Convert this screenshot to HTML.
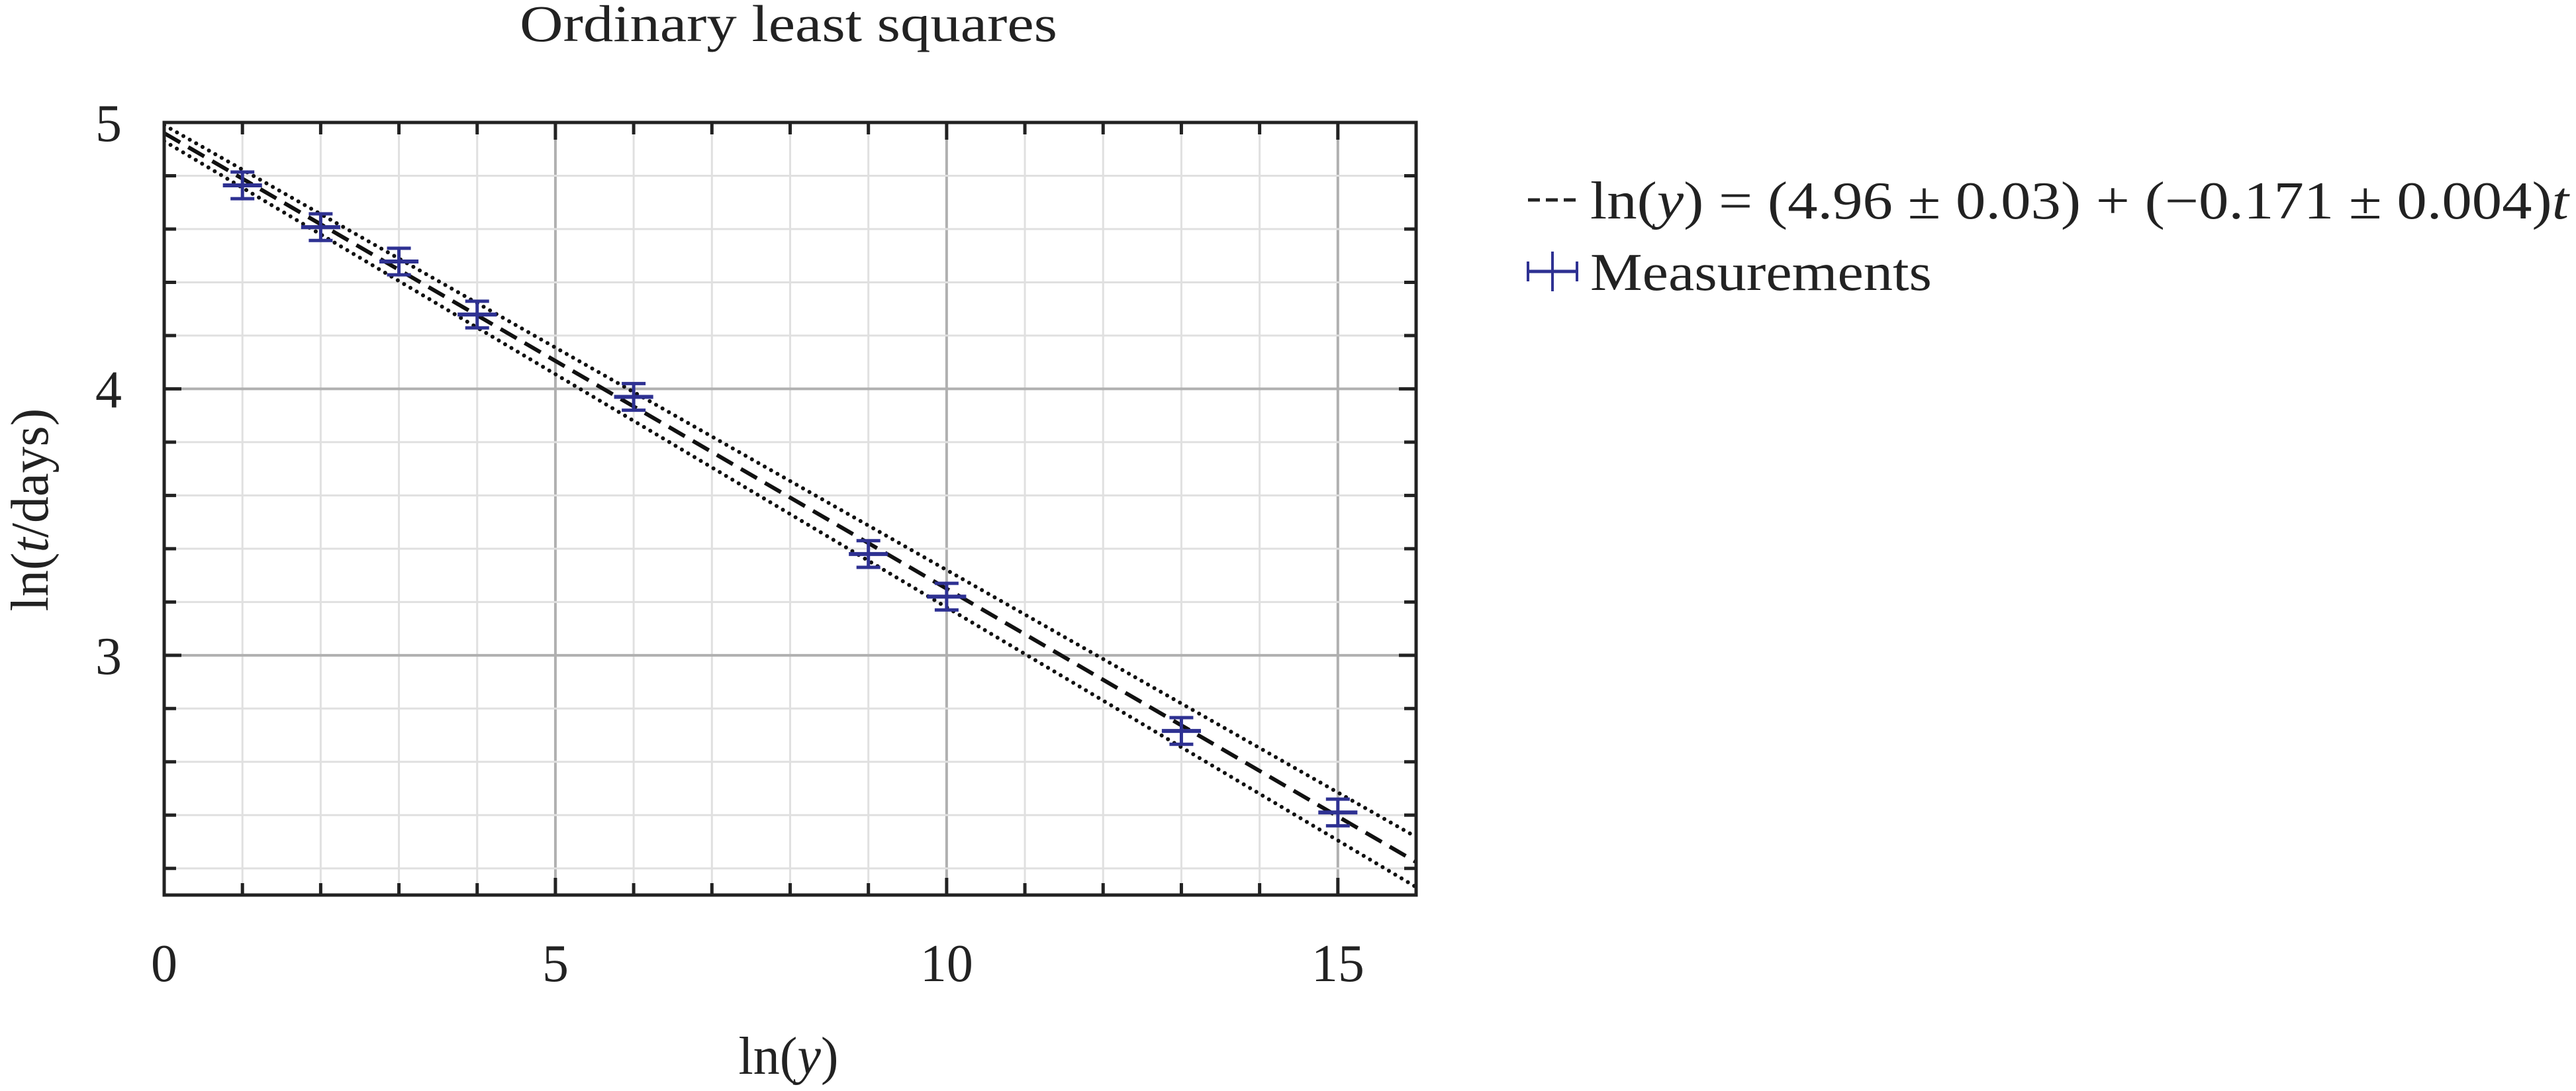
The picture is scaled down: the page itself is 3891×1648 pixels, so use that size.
<!DOCTYPE html>
<html><head><meta charset="utf-8"><style>
html,body{margin:0;padding:0;background:#fff;}
svg{display:block;font-family:"Liberation Serif",serif;}
</style></head><body>
<svg id="chart" width="3891" height="1648" viewBox="0 0 3891 1648" xmlns="http://www.w3.org/2000/svg">
<text x="1191" y="62" font-size="78" text-anchor="middle" fill="#222" textLength="812" lengthAdjust="spacingAndGlyphs">Ordinary least squares</text>
<g id="grid"></g>
<g id="fit"></g>
<g id="pts"></g>
<g id="axes"></g>
<text x="1191" y="1622" font-size="80" text-anchor="middle" fill="#222">ln(<tspan font-style="italic">y</tspan>)</text>
<text transform="translate(72,770) rotate(-90)" font-size="80" text-anchor="middle" fill="#222">ln(<tspan font-style="italic">t</tspan>/days)</text>
<g>
<line x1="2308" y1="302" x2="2382" y2="302" stroke="#222" stroke-width="5" stroke-dasharray="18,9"/>
<text x="2402" y="330" font-size="80" fill="#222" textLength="1478" lengthAdjust="spacingAndGlyphs">ln(<tspan font-style="italic">y</tspan>) = (4.96 ± 0.03) + (−0.171 ± 0.004)<tspan font-style="italic">t</tspan></text>
<line x1="2308" y1="410" x2="2382" y2="410" stroke="#2e3192" stroke-width="5"/>
<line x1="2345" y1="380" x2="2345" y2="440" stroke="#2e3192" stroke-width="4"/>
<line x1="2308" y1="395" x2="2308" y2="425" stroke="#2e3192" stroke-width="4"/>
<line x1="2382" y1="395" x2="2382" y2="425" stroke="#2e3192" stroke-width="4"/>
<text x="2402" y="438" font-size="80" fill="#222" textLength="516" lengthAdjust="spacingAndGlyphs">Measurements</text>
</g>
</svg>
<script>
const xs = [1, 2, 3, 4, 6, 9, 10, 13, 15];
const ys = [4.764, 4.607, 4.478, 4.279, 3.97, 3.38, 3.22, 2.716, 2.41];
const yErr = [0.05, 0.05, 0.05, 0.05, 0.05, 0.05, 0.05, 0.05, 0.05];
const xErr = [0.25, 0.25, 0.25, 0.25, 0.25, 0.25, 0.25, 0.25, 0.25];
const fitParams = [4.96, -0.171];
const upperBand = [4.99, -0.167];
const lowerBand = [4.93, -0.175];
const xTicks = [0, 5, 10, 15];
const yTicks = [3, 4, 5];
const xDomain = [0, 16];
const yDomain = [2.1, 5.0];

const L = 248, R = 2139, T = 185, B = 1352;
const sx = v => L + (v - xDomain[0]) / (xDomain[1] - xDomain[0]) * (R - L);
const sy = v => B - (v - yDomain[0]) / (yDomain[1] - yDomain[0]) * (B - T);
const NS = "http://www.w3.org/2000/svg";
function mk(parent, tag, attrs) {
  const e = document.createElementNS(NS, tag);
  for (const k in attrs) e.setAttribute(k, attrs[k]);
  parent.appendChild(e);
  return e;
}
const grid = document.getElementById('grid');
const axes = document.getElementById('axes');
const fit = document.getElementById('fit');
const pts = document.getElementById('pts');

for (let v = xDomain[0] + 1; v < xDomain[1]; v++) {
  const major = v % 5 === 0;
  const g = mk(grid, 'line', {x1: sx(v), x2: sx(v), y1: T, y2: B, stroke: major ? '#b0b0b0' : '#e0e0e0', 'stroke-width': major ? 4 : 3});
  
  
  const len = major ? 26 : 18;
  const t1 = mk(axes, 'line', {x1: sx(v), x2: sx(v), y1: B, y2: B - len, stroke: '#222', 'stroke-width': 5});
  
  
  const t2 = mk(axes, 'line', {x1: sx(v), x2: sx(v), y1: T, y2: T + len, stroke: '#222', 'stroke-width': 5});
  
  
}
for (let i = 1; i * 0.2 + 2.0 < yDomain[1] - 0.01; i++) {
  const v = +(2.0 + i * 0.2).toFixed(2);
  if (v <= yDomain[0]) continue;
  const major = Math.abs(v - Math.round(v)) < 1e-6;
  const g = mk(grid, 'line', {x1: L, x2: R, y1: sy(v), y2: sy(v), stroke: major ? '#b0b0b0' : '#e0e0e0', 'stroke-width': major ? 4 : 3});
  
  
  const len = major ? 26 : 18;
  const t1 = mk(axes, 'line', {x1: L, x2: L + len, y1: sy(v), y2: sy(v), stroke: '#222', 'stroke-width': 5});
  
  
  const t2 = mk(axes, 'line', {x1: R, x2: R - len, y1: sy(v), y2: sy(v), stroke: '#222', 'stroke-width': 5});
  
  
}
const frame = mk(axes, 'rect', {x: L, y: T, width: R - L, height: B - T, fill: 'none', stroke: '#222', 'stroke-width': 5});



xTicks.forEach(v => {
  const t = mk(axes, 'text', {x: sx(v), y: 1482, 'font-size': 80, 'text-anchor': 'middle', fill: '#222'});
  t.textContent = v;
  
  
});
yTicks.forEach(v => {
  const t = mk(axes, 'text', {x: 184, y: sy(v) + 28, 'font-size': 80, 'text-anchor': 'end', fill: '#222'});
  t.textContent = v;
  
  
});

const clip = mk(fit, 'clipPath', {id: 'pc'});
mk(clip, 'rect', {x: L, y: T, width: R - L, height: B - T});
function lineOf(p, dash, w, name) {
  const l = mk(fit, 'line', {x1: sx(xDomain[0]), y1: sy(p[0] + p[1] * xDomain[0]), x2: sx(xDomain[1]), y2: sy(p[0] + p[1] * xDomain[1]), stroke: '#111', 'stroke-width': w, 'stroke-dasharray': dash, 'stroke-linecap': dash === '0.1,11' ? 'round' : 'butt', 'clip-path': 'url(#pc)'});
  
  
}
lineOf(upperBand, '0.1,11', 6, 'upper-confidence-band');
lineOf(lowerBand, '0.1,11', 6, 'lower-confidence-band');
lineOf(fitParams, '28,14', 6, 'fit-line');

xs.forEach((x, i) => {
  const g = mk(pts, 'g', {});
  
  
  const cx = sx(x), cy = sy(ys[i]);
  const top = sy(ys[i] + yErr[i]), bot = sy(ys[i] - yErr[i]);
  const c = '#2e3192';
  mk(g, 'line', {x1: sx(x - xErr[i]), x2: sx(x + xErr[i]), y1: cy, y2: cy, stroke: c, 'stroke-width': 6});
  mk(g, 'line', {x1: cx, x2: cx, y1: top, y2: bot, stroke: c, 'stroke-width': 5});
  mk(g, 'line', {x1: cx - 18, x2: cx + 18, y1: top, y2: top, stroke: c, 'stroke-width': 5});
  mk(g, 'line', {x1: cx - 18, x2: cx + 18, y1: bot, y2: bot, stroke: c, 'stroke-width': 5});
});
</script>
</body></html>
